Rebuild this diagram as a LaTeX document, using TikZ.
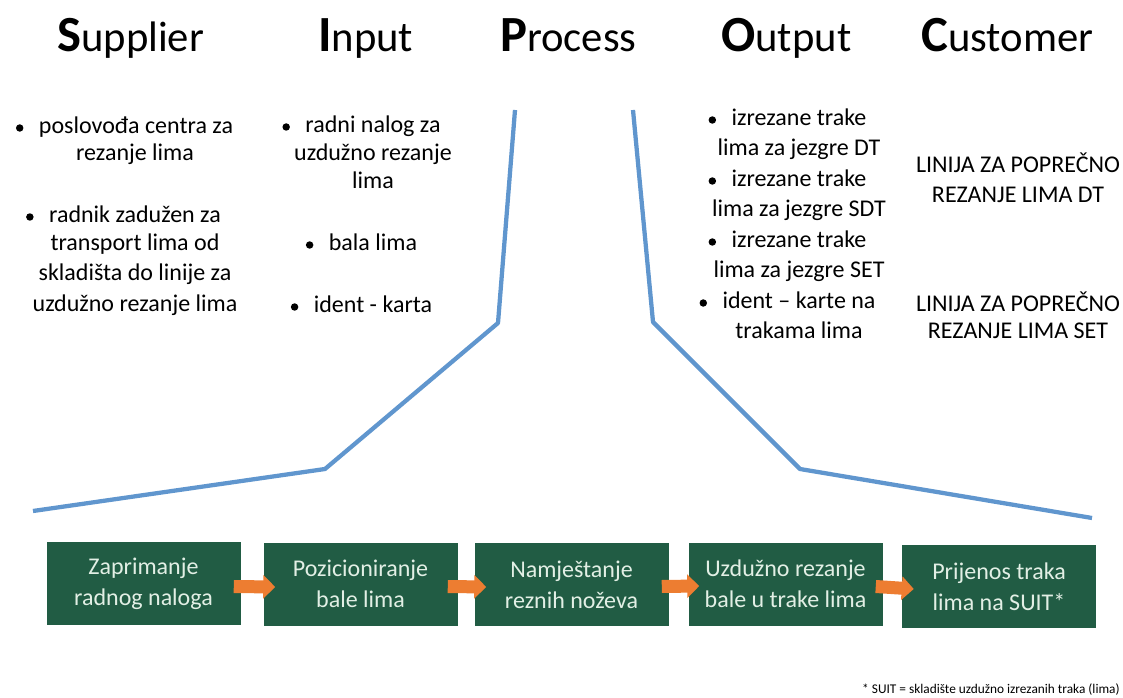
\documentclass[tikz,border=0pt]{standalone}
\usepackage{fontspec}
\setmainfont{Carlito}
\usetikzlibrary{arrows.meta,calc}
\definecolor{boxgreen}{RGB}{33,92,68}
\definecolor{boxtext}{RGB}{226,239,229}
\definecolor{arrorange}{RGB}{237,125,49}
\definecolor{funnelblue}{RGB}{96,150,206}
\begin{document}
\begin{tikzpicture}[x=0.75pt,y=-0.75pt,
  txt/.style={font=\fontsize{18}{22}\selectfont, inner sep=0pt, anchor=base},
  hd/.style={inner sep=0pt, anchor=base west},
  proc/.style={fill=boxgreen, text=boxtext, font=\fontsize{18}{23.25}\selectfont, align=center,
    minimum width=145.5pt, minimum height=62.25pt, inner sep=0pt},
  funnel/.style={draw=funnelblue, line width=3.2pt, line join=round},
  flow/.style={draw=arrorange, line width=9.75pt, -{Triangle[length=9pt,width=17.25pt]}},
  bul/.style={fill=black}
]
\useasboundingbox (0,0) rectangle (1123,698);
% headings
\newcommand{\hdg}[2]{{\fontsize{38}{40}\selectfont\bfseries #1}{\fontsize{32}{34}\selectfont #2}}
\node[hd] (hS) at (57,52) {\hdg{S}{upplier}};
\node[hd] (hI) at (318,52) {\hdg{I}{nput}};
\node[hd] (hP) at (500,52) {\hdg{P}{rocess}};
\node[hd] (hO) at (721,52) {\hdg{O}{utput}};
\node[hd] (hC) at (921,52) {\hdg{C}{ustomer}};
% funnel
\draw[funnel] (515,110) -- (498,323) -- (325,469) -- (33,511);
\draw[funnel] (633,110) -- (653,322) -- (800,469) -- (1092,518);
% Supplier
\node[txt] (s1) at (136,134) {poslovođa centra za};
\node[txt] (s2) at (135,161) {rezanje lima};
\node[txt] (s3) at (135,223) {radnik zadužen za};
\node[txt] (s4) at (135,251) {transport lima od};
\node[txt] (s5) at (135,281) {skladišta do linije za};
\node[txt] (s6) at (135,311) {uzdužno rezanje lima};
% Input
\node[txt] (i1) at (373,133) {radni nalog za};
\node[txt] (i2) at (373,161) {uzdužno rezanje};
\node[txt] (i3) at (373,189) {lima};
\node[txt] (i4) at (373,251) {bala lima};
\node[txt] (i5) at (373,313) {ident - karta};
% Output
\node[txt] (o1) at (799,126) {izrezane trake};
\node[txt] (o2) at (799,156) {lima za jezgre DT};
\node[txt] (o3) at (799,187) {izrezane trake};
\node[txt] (o4) at (799,217) {lima za jezgre SDT};
\node[txt] (o5) at (799,248) {izrezane trake};
\node[txt] (o6) at (799,278) {lima za jezgre SET};
\node[txt] (o7) at (799,309) {ident – karte na};
\node[txt] (o8) at (799,339) {trakama lima};
% Customer
\node[txt] (c1) at (1018,173) {LINIJA ZA POPREČNO};
\node[txt] (c2) at (1018,203) {REZANJE LIMA DT};
\node[txt] (c3) at (1018,311) {LINIJA ZA POPREČNO};
\node[txt] (c4) at (1018,339) {REZANJE LIMA SET};
% bullets
\foreach \n in {s1,s3,i1,i4,i5,o1,o3,o5,o7}
  \fill[bul] ($(\n.base west)+(-19,-6)$) circle[radius=2.8pt];
% process boxes
\node[proc] (b1) at (143.5,583.5) {Zaprimanje\\radnog naloga};
\node[proc] (b2) at (360.5,584) {Pozicioniranje\\bale lima};
\node[proc] (b3) at (571.5,584.5) {Namještanje\\reznih noževa};
\node[proc] (b4) at (785.5,584) {Uzdužno rezanje\\bale u trake lima};
\node[proc] (b5) at (999,586.5) {Prijenos traka\\lima na SUIT*};
% arrows
\draw[flow] ($(b1.east)+(-7,3)$) -- ($(b2.west)+(12,3)$);
\draw[flow] ($(b2.east)+(-10,2.5)$) -- ($(b3.west)+(12,2.5)$);
\draw[flow] ($(b3.east)+(-7,2)$) -- ($(b4.west)+(11,2)$);
\draw[flow] ($(b4.east)+(-7,2.5)$) -- ($(b5.west)+(12,2.5)$);
% footnote
\node[inner sep=0pt, anchor=base east, font=\fontsize{10}{12}\selectfont] (fn) at (1120,693) {* SUIT = skladište uzdužno izrezanih traka (lima)};
\end{tikzpicture}
\end{document}
